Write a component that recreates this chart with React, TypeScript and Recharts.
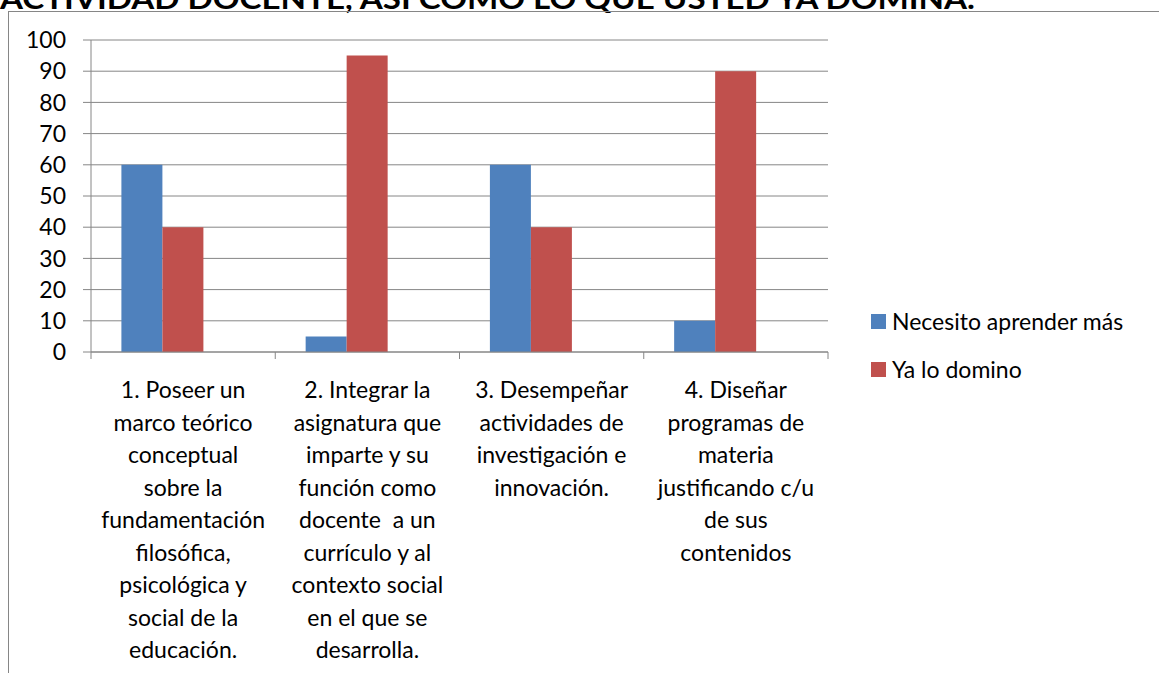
import { BarChart, Bar, XAxis, YAxis, CartesianGrid, Legend } from 'recharts'

const title = 'ACTIVIDAD DOCENTE, ASÍ COMO LO QUE USTED YA DOMINA.'

// category labels, already broken into the lines shown under each group
const categoryLines: string[][] = [
  ['1. Poseer un', 'marco teórico', 'conceptual', 'sobre la', 'fundamentación', 'filosófica,', 'psicológica y', 'social de la', 'educación.'],
  ['2. Integrar la', 'asignatura que', 'imparte y su', 'función como', 'docente  a un', 'currículo y al', 'contexto social', 'en el que se', 'desarrolla.'],
  ['3. Desempeñar', 'actividades de', 'investigación e', 'innovación.'],
  ['4. Diseñar', 'programas de', 'materia', 'justificando c/u', 'de sus', 'contenidos'],
]
const categories = categoryLines.map((l) => l.join(' '))

const necesito = [60, 5, 60, 10]
const domino = [40, 95, 40, 90]
// the source sheet has a third, empty series that still reserves a bar slot
const vacio: (number | null)[] = [null, null, null, null]

const seriesNames = ['Necesito aprender más', 'Ya lo domino']
const seriesColors = ['#4F81BD', '#C0504D']

const yTicks = [0, 10, 20, 30, 40, 50, 60, 70, 80, 90, 100]

const data = categories.map((name, i) => ({
  name,
  necesito: necesito[i],
  domino: domino[i],
  vacio: vacio[i],
}))

const FONT = 'Lato, "Open Sans", sans-serif'
const GRAY = '#868686'

function CategoryTick(props: any) {
  const { x, y, index, width, visibleTicksCount } = props
  const count = visibleTicksCount || categories.length
  const band = (Number(width) || 737) / count
  const lines = categoryLines[index] || []
  const left = x - band / 2
  const right = x + band / 2
  return (
    <g>
      <line x1={left} y1={y} x2={left} y2={y + 7} stroke={GRAY} />
      {index === count - 1 && <line x1={right} y1={y} x2={right} y2={y + 7} stroke={GRAY} />}
      <text
        x={x}
        y={y + 46}
        textAnchor="middle"
        fontSize={23}
        fontFamily={FONT}
        fill="#000"
        style={{ whiteSpace: 'pre' }}
      >
        {lines.map((line, i) => (
          <tspan key={i} x={x} dy={i === 0 ? 0 : 32.5}>
            {line}
          </tspan>
        ))}
      </text>
    </g>
  )
}

function LegendBox() {
  return (
    <div style={{ fontFamily: FONT, fontSize: 23, color: '#000' }}>
      {seriesNames.map((n, i) => (
        <div key={n} style={{ display: 'flex', alignItems: 'center', height: 48, whiteSpace: 'nowrap' }}>
          <span style={{ display: 'inline-block', width: 15, height: 15, background: seriesColors[i], marginRight: 6 }} />
          <span>{n}</span>
        </div>
      ))}
    </div>
  )
}

export default function App() {
  return (
    <div style={{ position: 'absolute', left: 0, top: 0, width: 1159, height: 673, overflow: 'hidden', background: '#fff' }}>
      <svg width={1159} height={20} style={{ position: 'absolute', left: 0, top: 0 }}>
        <text x={0} y={9} fontFamily={FONT} fontWeight={700} fontSize={29} textLength={975} lengthAdjust="spacingAndGlyphs" fill="#000">
          {title}
        </text>
      </svg>
      <div style={{ position: 'absolute', left: 8, top: 11, width: 1151, height: 662, borderTop: `1px solid ${GRAY}`, borderLeft: `1px solid ${GRAY}` }} />
      <div style={{ position: 'absolute', left: 0, top: 0 }}>
        <BarChart
          width={1159}
          height={673}
          data={data}
          margin={{ top: 40, right: 331, left: 0, bottom: 291 }}
          barCategoryGap="16.5%"
          barGap={0}
        >
          <CartesianGrid horizontal vertical={false} stroke={GRAY} strokeWidth={1} />
          <XAxis
            dataKey="name"
            interval={0}
            height={30}
            tickSize={0}
            tickMargin={0}
            tickLine={false}
            axisLine={{ stroke: GRAY }}
            tick={<CategoryTick />}
          />
          <YAxis
            domain={[0, 100]}
            ticks={yTicks}
            width={91}
            tickSize={8}
            tickMargin={17}
            axisLine={{ stroke: GRAY }}
            tickLine={{ stroke: GRAY }}
            tick={{ fontSize: 23, fill: '#000', fontFamily: FONT }}
          />
          <Legend
            layout="vertical"
            align="center"
            verticalAlign="middle"
            wrapperStyle={{ left: 871, top: 297, width: 288 }}
            content={<LegendBox />}
          />
          <Bar dataKey="necesito" name={seriesNames[0]} fill={seriesColors[0]} isAnimationActive={false} />
          <Bar dataKey="domino" name={seriesNames[1]} fill={seriesColors[1]} isAnimationActive={false} />
          <Bar dataKey="vacio" legendType="none" fill="none" isAnimationActive={false} />
        </BarChart>
      </div>
    </div>
  )
}
